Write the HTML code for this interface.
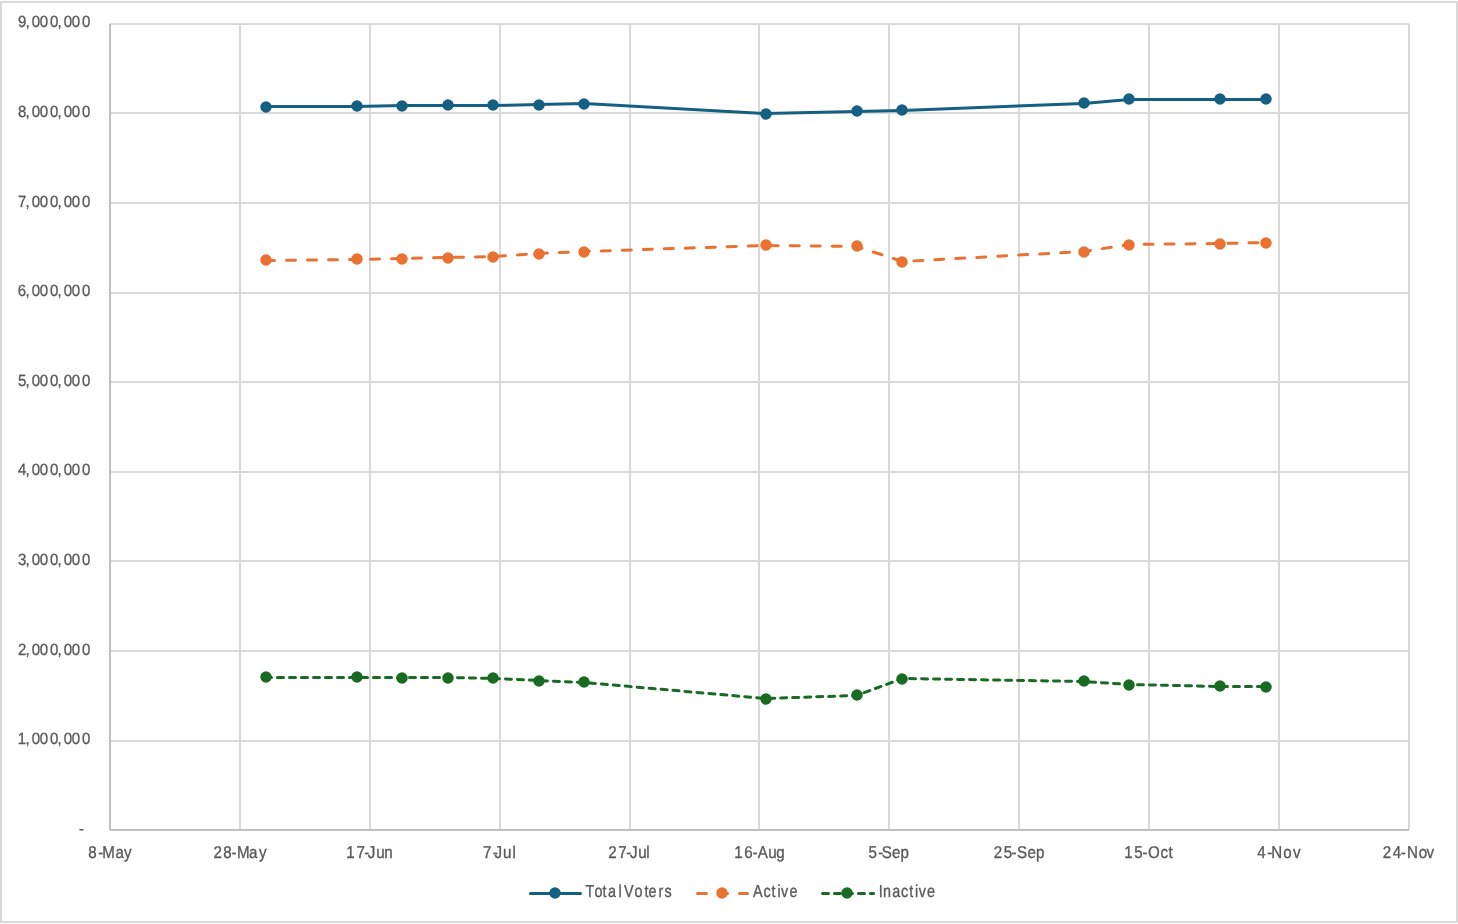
<!DOCTYPE html>
<html lang="en"><head><meta charset="utf-8"><title>Voter Registration Chart</title>
<style>html,body{margin:0;padding:0;background:#fff;}body{width:1458px;height:924px;overflow:hidden;}svg{display:block;}text{font-family:"Liberation Sans",Arial,Helvetica,sans-serif;fill:#595959;stroke:#595959;stroke-linejoin:round;text-rendering:geometricPrecision;}</style></head><body>
<svg width="1458" height="924" viewBox="0 0 1458 924">
<rect x="0" y="0" width="1458" height="924" fill="#ffffff"/>
<g fill="#d9d9d9" shape-rendering="crispEdges">
<rect x="1" y="1" width="1456" height="2"/>
<rect x="1" y="921" width="1456" height="2"/>
<rect x="0" y="2" width="2" height="920"/>
<rect x="1456" y="2" width="2" height="920"/>
<rect x="0" y="1" width="1" height="1" fill="#e8e8e8"/>
<rect x="1457" y="1" width="1" height="1" fill="#e1e1e1"/>
<rect x="0" y="922" width="1" height="1" fill="#e8e8e8"/>
<rect x="1457" y="922" width="1" height="1" fill="#ebebeb"/>
</g>
<g fill="#d9d9d9" shape-rendering="crispEdges">
<rect x="110" y="23" width="1299" height="2"/>
<rect x="110" y="112" width="1299" height="2"/>
<rect x="110" y="202" width="1299" height="2"/>
<rect x="110" y="292" width="1299" height="2"/>
<rect x="110" y="381" width="1299" height="2"/>
<rect x="110" y="471" width="1299" height="2"/>
<rect x="110" y="560" width="1299" height="2"/>
<rect x="110" y="650" width="1299" height="2"/>
<rect x="110" y="740" width="1299" height="2"/>
<rect x="239" y="24" width="2" height="806"/>
<rect x="369" y="24" width="2" height="806"/>
<rect x="499" y="24" width="2" height="806"/>
<rect x="629" y="24" width="2" height="806"/>
<rect x="758" y="24" width="2" height="806"/>
<rect x="888" y="24" width="2" height="806"/>
<rect x="1018" y="24" width="2" height="806"/>
<rect x="1148" y="24" width="2" height="806"/>
<rect x="1278" y="24" width="2" height="806"/>
<rect x="1408" y="24" width="2" height="806"/>
</g>
<g fill="#bfbfbf" shape-rendering="crispEdges">
<rect x="109" y="24" width="2" height="806"/>
<rect x="110" y="829" width="1299" height="2"/>
</g>
<g>
<polyline points="265.5,106.5 356.5,106.5 402.5,105.5 447.5,105.5 493.5,105.5 538.5,104.5 584.5,103.5 765.5,113.5 856.5,111.5 902.5,110.5 1083.5,103.5 1129.5,99.5 1220.5,99.5 1265.5,99.5" fill="none" stroke="#156082" stroke-width="3" stroke-linecap="round" stroke-linejoin="round"/>
<g fill="#156082">
<circle cx="266" cy="107" r="5.75"/>
<circle cx="357" cy="106" r="5.75"/>
<circle cx="402" cy="106" r="5.75"/>
<circle cx="448" cy="105" r="5.75"/>
<circle cx="493" cy="105" r="5.75"/>
<circle cx="539" cy="105" r="5.75"/>
<circle cx="584" cy="104" r="5.75"/>
<circle cx="766" cy="114" r="5.75"/>
<circle cx="857" cy="111" r="5.75"/>
<circle cx="902" cy="110" r="5.75"/>
<circle cx="1084" cy="103" r="5.75"/>
<circle cx="1129" cy="99" r="5.75"/>
<circle cx="1220" cy="99" r="5.75"/>
<circle cx="1266" cy="99" r="5.75"/>
</g></g>
<g>
<polyline points="265.5,260.5 356.5,259.5 402.5,258.5 447.5,257.5 493.5,256.5 538.5,253.5 584.5,251.5 765.5,245.5 856.5,246.5 902.5,261.5 1083.5,251.5 1129.5,244.5 1220.5,243.5 1265.5,242.5" fill="none" stroke="#e97132" stroke-width="3" stroke-linecap="round" stroke-linejoin="round" stroke-dasharray="9 12"/>
<g fill="#e97132">
<circle cx="266" cy="260" r="5.75"/>
<circle cx="357" cy="259" r="5.75"/>
<circle cx="402" cy="259" r="5.75"/>
<circle cx="448" cy="258" r="5.75"/>
<circle cx="493" cy="257" r="5.75"/>
<circle cx="539" cy="254" r="5.75"/>
<circle cx="584" cy="252" r="5.75"/>
<circle cx="766" cy="245" r="5.75"/>
<circle cx="857" cy="246" r="5.75"/>
<circle cx="902" cy="262" r="5.75"/>
<circle cx="1084" cy="252" r="5.75"/>
<circle cx="1129" cy="245" r="5.75"/>
<circle cx="1220" cy="244" r="5.75"/>
<circle cx="1266" cy="243" r="5.75"/>
</g></g>
<g>
<polyline points="265.5,677.5 356.5,677.5 402.5,677.5 447.5,677.5 493.5,678.5 538.5,680.5 584.5,682.5 765.5,698.5 856.5,695.5 902.5,678.5 1083.5,681.5 1129.5,684.5 1220.5,686.5 1265.5,686.5" fill="none" stroke="#196b24" stroke-width="3" stroke-linecap="round" stroke-linejoin="round" stroke-dasharray="6 6"/>
<g fill="#196b24">
<circle cx="266" cy="677" r="5.75"/>
<circle cx="357" cy="677" r="5.75"/>
<circle cx="402" cy="678" r="5.75"/>
<circle cx="448" cy="678" r="5.75"/>
<circle cx="493" cy="678" r="5.75"/>
<circle cx="539" cy="681" r="5.75"/>
<circle cx="584" cy="682" r="5.75"/>
<circle cx="766" cy="699" r="5.75"/>
<circle cx="857" cy="695" r="5.75"/>
<circle cx="902" cy="679" r="5.75"/>
<circle cx="1084" cy="681" r="5.75"/>
<circle cx="1129" cy="685" r="5.75"/>
<circle cx="1220" cy="686" r="5.75"/>
<circle cx="1266" cy="687" r="5.75"/>
</g></g>
<g>
<text x="19.46 27.63 34.46 43.08 54.22 62.46 69.27 78.08 89.05" y="26.85" font-size="16.3" transform="scale(0.92,1)" stroke-width="0.3">9,000,000</text>
<text x="19.46 27.63 34.46 43.08 54.22 62.46 69.27 78.08 89.05" y="116.85" font-size="16.3" transform="scale(0.92,1)" stroke-width="0.3">8,000,000</text>
<text x="19.45 27.63 34.46 43.08 54.22 62.46 69.27 78.08 89.05" y="206.85" font-size="16.3" transform="scale(0.92,1)" stroke-width="0.3">7,000,000</text>
<text x="19.40 27.63 34.46 43.08 54.22 62.46 69.27 78.08 89.05" y="295.85" font-size="16.3" transform="scale(0.92,1)" stroke-width="0.3">6,000,000</text>
<text x="19.47 27.63 34.46 43.08 54.22 62.46 69.27 78.08 89.05" y="385.85" font-size="16.3" transform="scale(0.92,1)" stroke-width="0.3">5,000,000</text>
<text x="19.51 27.63 34.46 43.08 54.22 62.46 69.27 78.08 89.05" y="474.85" font-size="16.3" transform="scale(0.92,1)" stroke-width="0.3">4,000,000</text>
<text x="19.50 27.63 34.46 43.08 54.22 62.46 69.27 78.08 89.05" y="564.85" font-size="16.3" transform="scale(0.92,1)" stroke-width="0.3">3,000,000</text>
<text x="19.46 27.63 34.46 43.08 54.22 62.46 69.27 78.08 89.05" y="654.85" font-size="16.3" transform="scale(0.92,1)" stroke-width="0.3">2,000,000</text>
<text x="19.23 27.63 34.46 43.08 54.22 62.46 69.27 78.08 89.05" y="743.85" font-size="16.3" transform="scale(0.92,1)" stroke-width="0.3">1,000,000</text>
<text x="85.76" y="833.50" font-size="16.3" transform="scale(0.92,1)" stroke-width="0.3">-</text>
</g>
<g>
<text x="99.15 110.43 114.83 129.86 139.34" y="857.50" font-size="17.0" transform="scale(0.89,1)" stroke-width="0.35">8-May</text>
<text x="239.77 250.78 260.09 266.40 279.74 291.03" y="857.50" font-size="17.0" transform="scale(0.89,1)" stroke-width="0.35">28-May</text>
<text x="389.09 400.55 409.25 413.32 422.70 431.89" y="857.50" font-size="17.0" transform="scale(0.89,1)" stroke-width="0.35">17-Jun</text>
<text x="542.57 553.57 555.57 565.06 575.97" y="857.50" font-size="17.0" transform="scale(0.89,1)" stroke-width="0.35">7-Jul</text>
<text x="683.53 694.81 703.57 707.76 717.14 726.25" y="857.50" font-size="17.0" transform="scale(0.89,1)" stroke-width="0.35">27-Jul</text>
<text x="825.04 836.28 845.48 851.47 863.26 872.21" y="857.50" font-size="17.0" transform="scale(0.89,1)" stroke-width="0.35">16-Aug</text>
<text x="975.74 986.72 990.74 1002.26 1011.71" y="857.50" font-size="17.0" transform="scale(0.89,1)" stroke-width="0.35">5-Sep</text>
<text x="1116.62 1127.87 1136.50 1142.76 1154.62 1163.96" y="857.50" font-size="17.0" transform="scale(0.89,1)" stroke-width="0.35">25-Sep</text>
<text x="1263.24 1274.56 1283.69 1289.91 1303.93 1313.02" y="857.50" font-size="17.0" transform="scale(0.89,1)" stroke-width="0.35">15-Oct</text>
<text x="1412.69 1423.91 1428.35 1441.90 1452.83" y="857.50" font-size="17.0" transform="scale(0.89,1)" stroke-width="0.35">4-Nov</text>
<text x="1553.70 1564.99 1573.91 1580.88 1594.04 1602.83" y="857.50" font-size="17.0" transform="scale(0.89,1)" stroke-width="0.35">24-Nov</text>
</g>
<g>
<line x1="530.5" y1="893.5" x2="580.5" y2="893.5" stroke="#156082" stroke-width="3" stroke-linecap="round"/>
<circle cx="555" cy="893" r="5.75" fill="#156082"/>
<text x="705.44 716.27 725.96 732.65 745.18 749.52 751.82 764.59 776.38 781.35 793.25 800.69" y="896.50" font-size="17.3" transform="scale(0.83,1)" stroke-width="0.35" xml:space="preserve">Total Voters</text>
</g>
<g>
<line x1="697.5" y1="893.5" x2="747.5" y2="893.5" stroke="#e97132" stroke-width="3" stroke-linecap="round" stroke-dasharray="9 12"/>
<circle cx="722" cy="893" r="5.75" fill="#e97132"/>
<text x="907.18 919.99 929.58 936.70 941.10 951.23" y="896.50" font-size="17.3" transform="scale(0.83,1)" stroke-width="0.35">Active</text>
</g>
<g>
<line x1="822.5" y1="893.5" x2="873.6" y2="893.5" stroke="#196b24" stroke-width="3" stroke-linecap="round" stroke-dasharray="6 6"/>
<circle cx="847" cy="893" r="5.75" fill="#196b24"/>
<text x="1058.62 1063.97 1075.06 1085.54 1095.36 1102.36 1106.88 1116.89" y="896.50" font-size="17.3" transform="scale(0.83,1)" stroke-width="0.35">Inactive</text>
</g>
</svg>
</body></html>
